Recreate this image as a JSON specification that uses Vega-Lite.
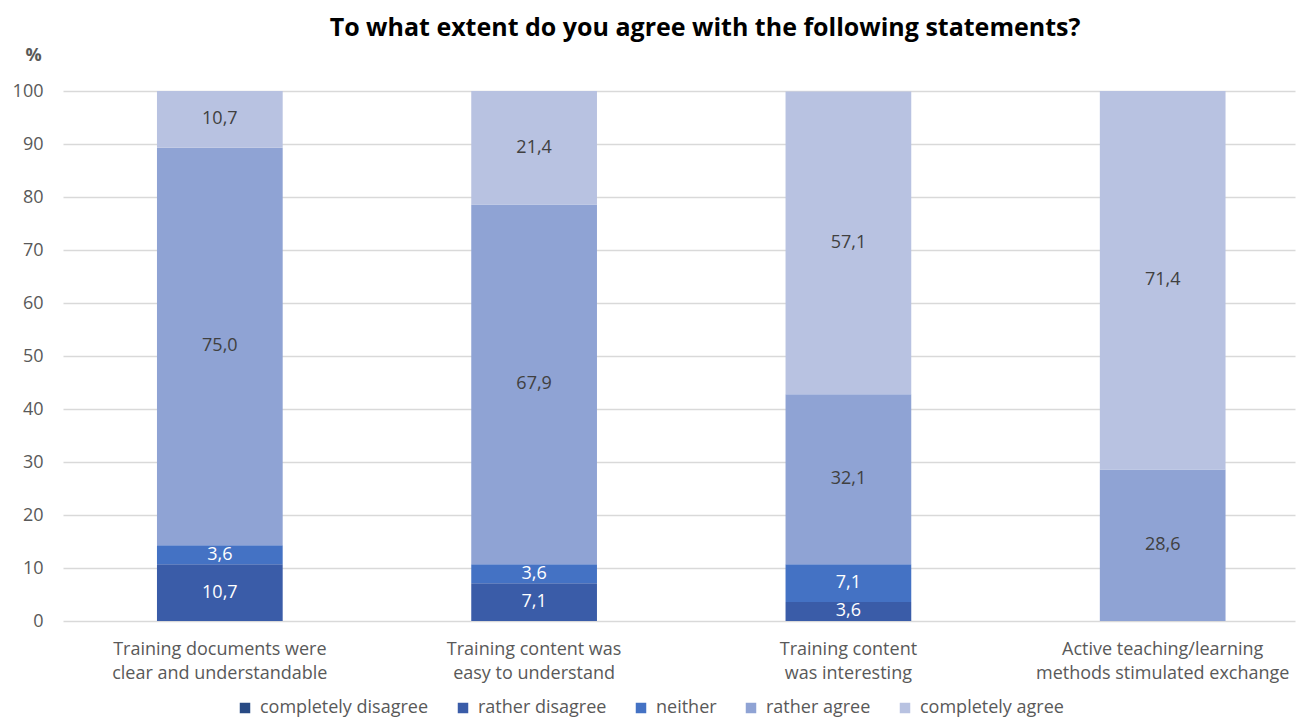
{
  "$schema": "https://vega.github.io/schema/vega-lite/v6.json",
  "width": 1232,
  "height": 530,
  "autosize": {"type": "none"},
  "padding": {"left": 63, "top": 91, "right": 8, "bottom": 98},
  "background": "white",
  "config": {
    "font": "Open Sans",
    "view": {"stroke": null},
    "locale": {"number": {"decimal": ",", "thousands": ".", "grouping": [3], "currency": ["", " €"]}}
  },
  "title": {
    "text": "To what extent do you agree with the following statements?",
    "fontSize": 25,
    "fontWeight": "bold",
    "color": "#000000",
    "anchor": "middle",
    "dx": 26,
    "offset": 5
  },
  "data": {
    "values": [
      {"statement": "Training documents were|clear and understandable", "category": "rather disagree", "idx": 2, "value": 10.7},
      {"statement": "Training documents were|clear and understandable", "category": "neither", "idx": 3, "value": 3.6},
      {"statement": "Training documents were|clear and understandable", "category": "rather agree", "idx": 4, "value": 75.0},
      {"statement": "Training documents were|clear and understandable", "category": "completely agree", "idx": 5, "value": 10.7},
      {"statement": "Training content was|easy to understand", "category": "rather disagree", "idx": 2, "value": 7.1},
      {"statement": "Training content was|easy to understand", "category": "neither", "idx": 3, "value": 3.6},
      {"statement": "Training content was|easy to understand", "category": "rather agree", "idx": 4, "value": 67.9},
      {"statement": "Training content was|easy to understand", "category": "completely agree", "idx": 5, "value": 21.4},
      {"statement": "Training content|was interesting", "category": "rather disagree", "idx": 2, "value": 3.6},
      {"statement": "Training content|was interesting", "category": "neither", "idx": 3, "value": 7.1},
      {"statement": "Training content|was interesting", "category": "rather agree", "idx": 4, "value": 32.1},
      {"statement": "Training content|was interesting", "category": "completely agree", "idx": 5, "value": 57.1},
      {"statement": "Active teaching/learning|methods stimulated exchange", "category": "rather agree", "idx": 4, "value": 28.6},
      {"statement": "Active teaching/learning|methods stimulated exchange", "category": "completely agree", "idx": 5, "value": 71.4}
    ]
  },
  "encoding": {
    "x": {
      "field": "statement",
      "type": "nominal",
      "sort": null,
      "scale": {"paddingInner": 0.6, "paddingOuter": 0.26, "align": 0.575},
      "axis": {
        "title": null,
        "labelAngle": 0,
        "labelExpr": "split(datum.label, '|')",
        "labelFontSize": 18,
        "labelColor": "#595959",
        "labelLineHeight": 24,
        "labelPadding": 19,
        "labelLimit": 400,
        "domain": false,
        "ticks": false
      }
    },
    "y": {
      "field": "value",
      "type": "quantitative",
      "stack": "zero",
      "scale": {"domain": [0, 100]},
      "axis": {
        "title": "%",
        "titleAngle": 0,
        "titleX": -30,
        "titleY": -36,
        "titleAlign": "center",
        "titleBaseline": "middle",
        "titleFontSize": 18,
        "titleFontWeight": "bold",
        "titleColor": "#595959",
        "values": [0, 10, 20, 30, 40, 50, 60, 70, 80, 90, 100],
        "labelFontSize": 18,
        "labelColor": "#595959",
        "labelPadding": 20,
        "gridColor": "#d9d9d9",
        "gridWidth": 1.3,
        "domain": false,
        "ticks": false
      }
    },
    "order": {"field": "idx", "type": "quantitative"}
  },
  "layer": [
    {
      "mark": {"type": "bar"},
      "encoding": {
        "color": {
          "field": "category",
          "type": "nominal",
          "scale": {
            "domain": ["completely disagree", "rather disagree", "neither", "rather agree", "completely agree"],
            "range": ["#284a84", "#3a5ca8", "#4472c4", "#8fa3d4", "#b8c2e1"]
          },
          "legend": {
            "title": null,
            "orient": "none",
            "direction": "horizontal",
            "legendX": 173,
            "legendY": 608,
            "symbolType": "square",
            "symbolSize": 110,
            "symbolStrokeWidth": 0,
            "labelFontSize": 18,
            "labelColor": "#595959",
            "labelOffset": 6,
            "labelLimit": 400,
            "columnPadding": 25
          }
        }
      }
    },
    {
      "mark": {"type": "text", "fontSize": 18, "baseline": "middle"},
      "encoding": {
        "y": {"field": "value", "type": "quantitative", "stack": "zero", "bandPosition": 0.5},
        "text": {"field": "value", "type": "quantitative", "format": ".1f"},
        "color": {
          "condition": {"test": "datum.category == 'rather disagree' || datum.category == 'neither'", "value": "#ffffff"},
          "value": "#404040"
        }
      }
    }
  ]
}
